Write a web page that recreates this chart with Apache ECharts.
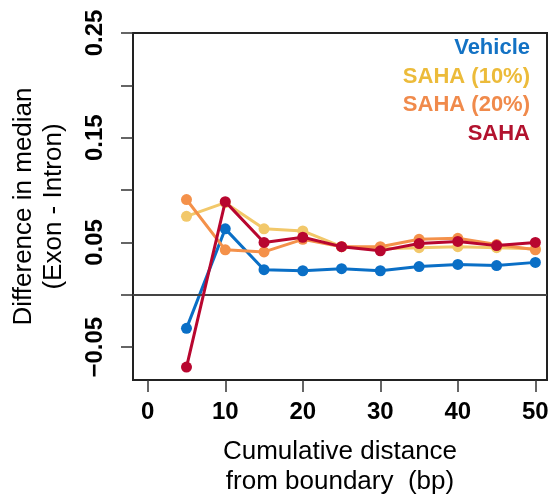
<!DOCTYPE html>
<html>
<head>
<meta charset="utf-8">
<script src="https://cdn.jsdelivr.net/npm/echarts@6/dist/echarts.min.js"></script>
<style>
  html, body { margin: 0; padding: 0; background: #fff; }
  #chart { width: 555px; height: 503px; }
</style>
</head>
<body>
<div id="chart"></div>
<script>
// distance from boundary (bp)
const distance = [5, 10, 15, 20, 25, 30, 35, 40, 45, 50]
// difference in median, exon - intron
const vehicle = [-0.032, 0.063, 0.024, 0.023, 0.025, 0.023, 0.027, 0.029, 0.028, 0.031]
const saha10 = [0.075, 0.088, 0.063, 0.061, 0.046, 0.044, 0.045, 0.046, 0.045, 0.044]
const saha20 = [0.091, 0.043, 0.041, 0.053, 0.046, 0.046, 0.053, 0.054, 0.048, 0.043]
const saha = [-0.069, 0.089, 0.050, 0.055, 0.046, 0.042, 0.049, 0.051, 0.047, 0.050]
// faint leftover point at the origin
const originPoint = [[0, 0]]

const seriesNames = ['Vehicle', 'SAHA (10%)', 'SAHA (20%)', 'SAHA']
const seriesColors = ['#0a6fc6', '#f2c86a', '#f4914a', '#b8062f']
const legendColors = ['#1372c4', '#ecbb3a', '#f08a4b', '#b2122e']
const seriesValues = [vehicle, saha10, saha20, saha]

const xTicks = [0, 10, 20, 30, 40, 50]
const yTicks = [-0.05, 0, 0.05, 0.10, 0.15, 0.20, 0.25]
const yLabels = [-0.05, 0.05, 0.15, 0.25]

const chart = echarts.init(document.getElementById('chart'), null, { renderer: 'canvas' })

let series = seriesValues.map((vals, i) => {
  return {
    name: seriesNames[i],
    type: 'line',
    data: distance.map((d, j) => [d, vals[j]]),
    symbol: 'circle',
    symbolSize: 11,
    lineStyle: { width: 3, color: seriesColors[i] },
    itemStyle: { color: seriesColors[i] },
    z: 3 + i
  }
})
// y = 0 reference line
series[0].markLine = {
  silent: true,
  symbol: 'none',
  label: { show: false },
  lineStyle: { color: '#444', width: 2, type: 'solid' },
  data: [{ yAxis: 0 }]
}
series.push({
  type: 'scatter',
  data: originPoint,
  symbol: 'emptyCircle',
  symbolSize: 8,
  itemStyle: { color: '#fff', borderColor: '#c6eff3', borderWidth: 1 },
  z: 1
})

// legend as plain coloured text, right aligned
let legendText = seriesNames.map((name, i) => {
  return {
    type: 'text',
    right: 25,
    top: 37 + i * 28.5,
    style: {
      text: name,
      fill: legendColors[i],
      font: 'bold 22px "Liberation Sans", Arial, sans-serif'
    }
  }
})

const option = {
  animation: false,
  grid: {
    left: 133, right: 8, top: 33, bottom: 123,
    show: true,
    borderColor: '#222',
    borderWidth: 2,
    backgroundColor: 'transparent'
  },
  xAxis: {
    type: 'value',
    min: -1.9,
    max: 51.5,
    axisLine: { show: false, onZero: false },
    splitLine: { show: false },
    axisTick: {
      show: true, inside: false, length: 12,
      customValues: xTicks,
      lineStyle: { color: '#333', width: 1.5 }
    },
    axisLabel: {
      customValues: xTicks,
      margin: 20,
      color: '#000',
      fontWeight: 'bold',
      fontSize: 24,
      fontFamily: '"Liberation Sans", Arial, sans-serif'
    },
    name: 'Cumulative distance\nfrom boundary  (bp)',
    nameLocation: 'middle',
    nameGap: 57,
    nameTextStyle: {
      color: '#000',
      fontSize: 26,
      lineHeight: 30,
      fontFamily: '"Liberation Sans", Arial, sans-serif'
    }
  },
  yAxis: {
    type: 'value',
    min: -0.0813,
    max: 0.25,
    axisLine: { show: false, onZero: false },
    splitLine: { show: false },
    axisTick: {
      show: true, inside: false, length: 12,
      customValues: yTicks,
      lineStyle: { color: '#333', width: 1.5 }
    },
    axisLabel: {
      customValues: yLabels,
      rotate: 90,
      margin: 26,
      color: '#000',
      fontWeight: 'bold',
      fontSize: 24,
      fontFamily: '"Liberation Sans", Arial, sans-serif',
      formatter: v => v.toFixed(2).replace('-', '\u2212')
    },
    name: 'Difference in median\n(Exon - Intron)',
    nameLocation: 'middle',
    nameGap: 64,
    nameTextStyle: {
      color: '#000',
      fontSize: 26,
      lineHeight: 30,
      fontFamily: '"Liberation Sans", Arial, sans-serif'
    }
  },
  graphic: legendText,
  series: series
}

chart.setOption(option)
</script>
</body>
</html>
